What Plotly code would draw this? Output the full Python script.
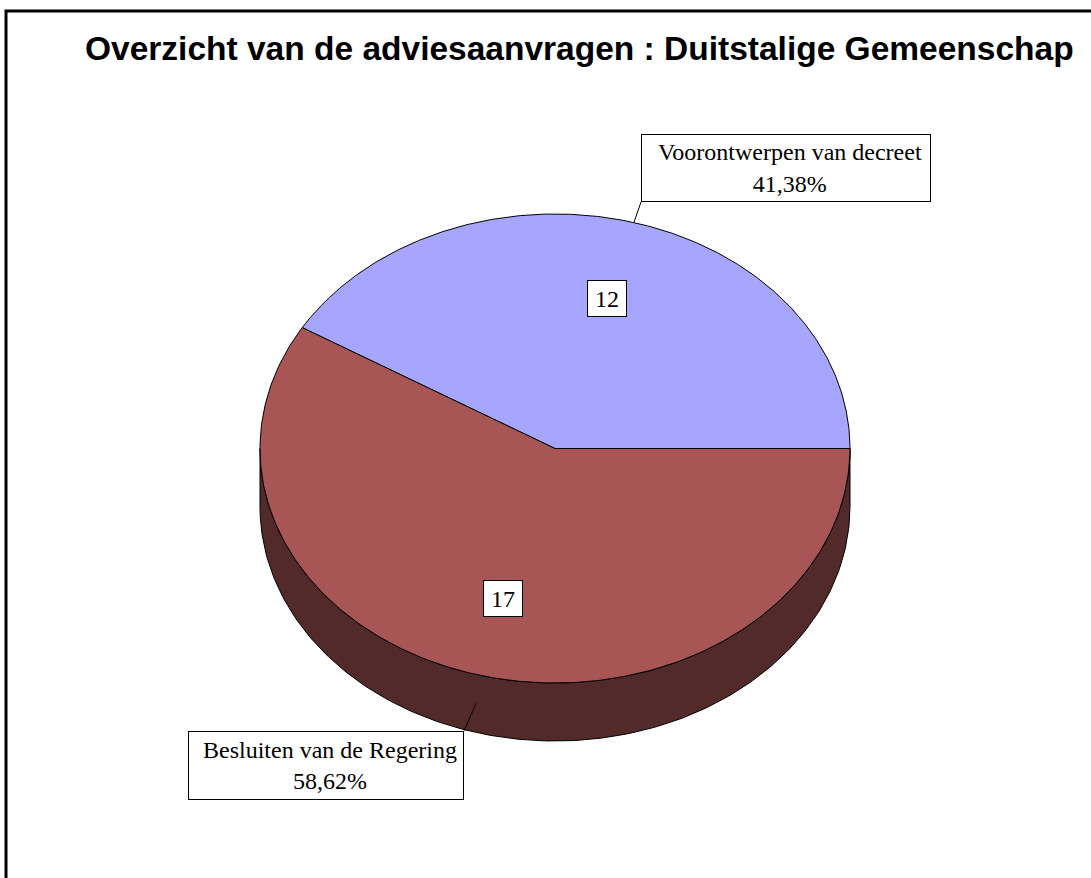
import numpy as np
import plotly.graph_objects as go

# ---- data ----
categories = ["Voorontwerpen van decreet", "Besluiten van de Regering"]
values = [12, 17]
title_text = "Overzicht van de adviesaanvragen : Duitstalige Gemeenschap"

# ---- style / layout constants ----
W, H = 1091, 878
CX, CY = 555, 448.5        # pie centre (pixel space)
RX, RY = 295, 234.5        # ellipse radii
DEPTH = 58                 # 3-D thickness
top_colors = ["#A6A6FF", "#A85555"]
side_colors = ["#53538A", "#532A2A"]
serif = "Liberation Serif, Times New Roman, serif"

total = sum(values)
fracs = [v / total for v in values]
pct_labels = [f"{f*100:.2f}%".replace(".", ",") for f in fracs]

fig = go.Figure()

# slice angle ranges (degrees, counter-clockwise from 3 o'clock)
starts, ends = [], []
a = 0.0
for f in fracs:
    starts.append(a)
    a += f * 360
    ends.append(a)


def ell(t_deg, dy=0.0, r=1.0):
    t = np.radians(t_deg)
    return CX + r * RX * np.cos(t), CY - r * RY * np.sin(t) + dy


# side walls (visible front half: 180..360)
for s, e, col in zip(starts, ends, side_colors):
    lo, hi = max(s, 180), min(e, 360)
    if hi <= lo:
        continue
    t = np.linspace(lo, hi, 200)
    xt, yt = ell(t)
    xb, yb = ell(t[::-1], DEPTH)
    xs = np.concatenate([xt, xb, xt[:1]])
    ys = np.concatenate([yt, yb, yt[:1]])
    fig.add_trace(go.Scatter(x=xs, y=ys, mode="lines", fill="toself",
                             fillcolor=col, line=dict(color="black", width=1),
                             hoverinfo="skip", showlegend=False))

# top faces
for s, e, col, name in zip(starts, ends, top_colors, categories):
    t = np.linspace(s, e, 300)
    xt, yt = ell(t)
    xs = np.concatenate([[CX], xt, [CX]])
    ys = np.concatenate([[CY], yt, [CY]])
    fig.add_trace(go.Scatter(x=xs, y=ys, mode="lines", fill="toself",
                             fillcolor=col, line=dict(color="black", width=1),
                             name=name, hoverinfo="skip", showlegend=False))

annotations = []
# value labels inside slices
for s, e, v in zip(starts, ends, values):
    m = (s + e) / 2
    x, y = ell(m, r=0.665)
    annotations.append(dict(x=float(x), y=float(y), xref="x", yref="y", text=str(v),
                            showarrow=False, font=dict(family=serif, size=24, color="black"),
                            bgcolor="white", bordercolor="black", borderwidth=1,
                            borderpad=3, width=32, height=29))

# outside category labels with leader lines
box_pos = [(786, 168, 284, 62), (326, 765.5, 270, 63)]   # centre x, centre y, w, h
lead_ends = [(641, 202), (464, 731)]
lead_dy = [0, 29]
boxes, texts = [], []
for s, e, name, pct, (bx, by, bw, bh), (lx, ly), ddy in zip(starts, ends, categories, pct_labels, box_pos, lead_ends, lead_dy):
    m = (s + e) / 2
    px, py = ell(m, dy=ddy)
    fig.add_trace(go.Scatter(x=[float(px), lx], y=[float(py), ly], mode="lines",
                             line=dict(color="black", width=1), hoverinfo="skip",
                             showlegend=False))
    boxes.append(dict(x=bx, y=by, xref="x", yref="y", text="", showarrow=False,
                      bgcolor="white", bordercolor="black", borderwidth=1,
                      borderpad=2, width=bw, height=bh))
    texts.append(dict(x=bx + 4, y=by, xref="x", yref="y",
                      text=f"{name}<br>{pct}", showarrow=False,
                      font=dict(family=serif, size=24, color="black"),
                      bgcolor="rgba(0,0,0,0)", borderwidth=0,
                      borderpad=2, width=bw, height=bh, align="center"))

annotations = annotations + boxes + texts

# title
annotations.append(dict(x=579, y=48, xref="x", yref="y", text=f"<b>{title_text}</b>",
                        showarrow=False,
                        font=dict(family="Liberation Sans, Arial, sans-serif", size=33.5, color="black")))

fig.update_layout(
    width=W, height=H,
    margin=dict(l=0, r=0, t=0, b=0),
    paper_bgcolor="white", plot_bgcolor="white",
    xaxis=dict(range=[0, W], visible=False, fixedrange=True),
    yaxis=dict(range=[H, 0], visible=False, fixedrange=True),
    annotations=annotations,
    hovermode=False,
    shapes=[dict(type="rect", xref="x", yref="y", x0=6, y0=11, x1=W + 40, y1=H + 40,
                 line=dict(color="black", width=3), fillcolor="rgba(0,0,0,0)")],
)

fig.write_html("out.html", config={"displayModeBar": False},
               post_script="document.body.style.margin='0';")
